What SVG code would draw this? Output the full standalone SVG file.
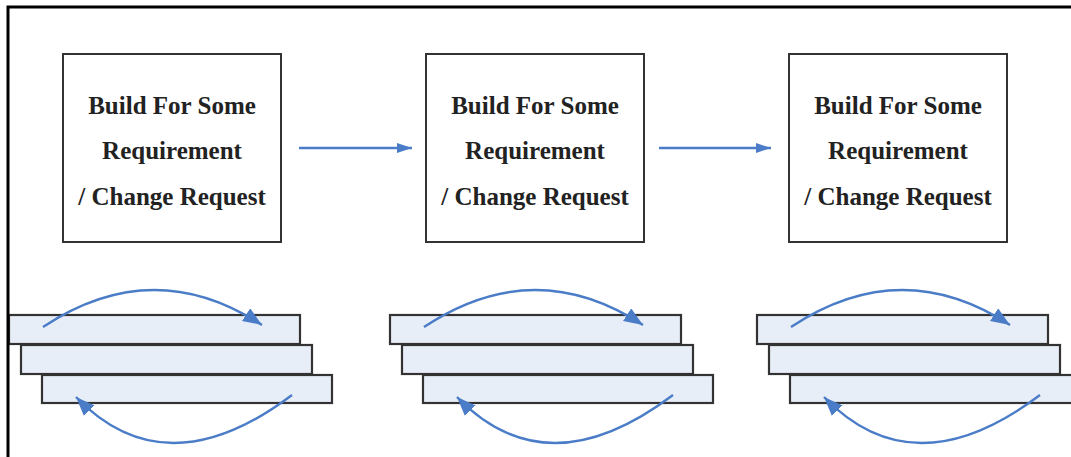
<svg xmlns="http://www.w3.org/2000/svg" width="1071" height="457" viewBox="0 0 1071 457">
<style>
.box{fill:#fff;stroke:#333;stroke-width:2}
.lbl{font-family:"Liberation Serif","Times New Roman",serif;font-weight:bold;font-size:25px;fill:#222;text-anchor:middle}
.bar{fill:#e8eef8;stroke:#333;stroke-width:2.2}
.conn{fill:none;stroke:#4a7cc7;stroke-width:2.4}
</style>
<defs>
<marker id="ah" markerUnits="userSpaceOnUse" markerWidth="22" markerHeight="16" refX="19" refY="7.5" orient="auto">
<path d="M0,0 L19,7.5 L0,15 z" fill="#4a7cc7"/>
</marker>
<marker id="ahs" markerUnits="userSpaceOnUse" markerWidth="16" markerHeight="12" refX="15" refY="5" orient="auto">
<path d="M0,0 L15,5 L0,10 z" fill="#4a7cc7"/>
</marker>
<g id="stack">
<rect class="bar" x="9" y="315" width="291" height="29"/>
<rect class="bar" x="21" y="345" width="291" height="29"/>
<rect class="bar" x="42" y="375" width="290" height="28"/>
<path class="conn" d="M43,327 Q153,254 262,325" marker-end="url(#ah)"/>
<path class="conn" d="M292,395 Q166,490 76,397" marker-end="url(#ah)"/>
</g>
</defs>
<rect x="0" y="0" width="1071" height="457" fill="#fff"/>
<g id="node1">
<rect class="box" x="63" y="54" width="218" height="188"/>
<text class="lbl" x="172" y="114">Build For Some</text>
<text class="lbl" x="172" y="159">Requirement</text>
<text class="lbl" x="172" y="205">/ Change Request</text>
</g>
<g id="node2">
<rect class="box" x="426" y="54" width="218" height="188"/>
<text class="lbl" x="535" y="114">Build For Some</text>
<text class="lbl" x="535" y="159">Requirement</text>
<text class="lbl" x="535" y="205">/ Change Request</text>
</g>
<g id="node3">
<rect class="box" x="789" y="54" width="218" height="188"/>
<text class="lbl" x="898" y="114">Build For Some</text>
<text class="lbl" x="898" y="159">Requirement</text>
<text class="lbl" x="898" y="205">/ Change Request</text>
</g>
<g id="stack1"><use href="#stack"/></g>
<g id="stack2"><use href="#stack" transform="translate(381,0)"/></g>
<g id="stack3"><use href="#stack" transform="translate(748,0)"/></g>
<g id="connectors">
<path class="conn" d="M299,148 L412,148" marker-end="url(#ahs)"/>
<path class="conn" d="M659,148 L771,148" marker-end="url(#ahs)"/>
</g>
<g id="frame" fill="none" stroke="#000" stroke-width="3">
<path d="M8,457 L8,7 L1071,7"/>
</g>
</svg>
